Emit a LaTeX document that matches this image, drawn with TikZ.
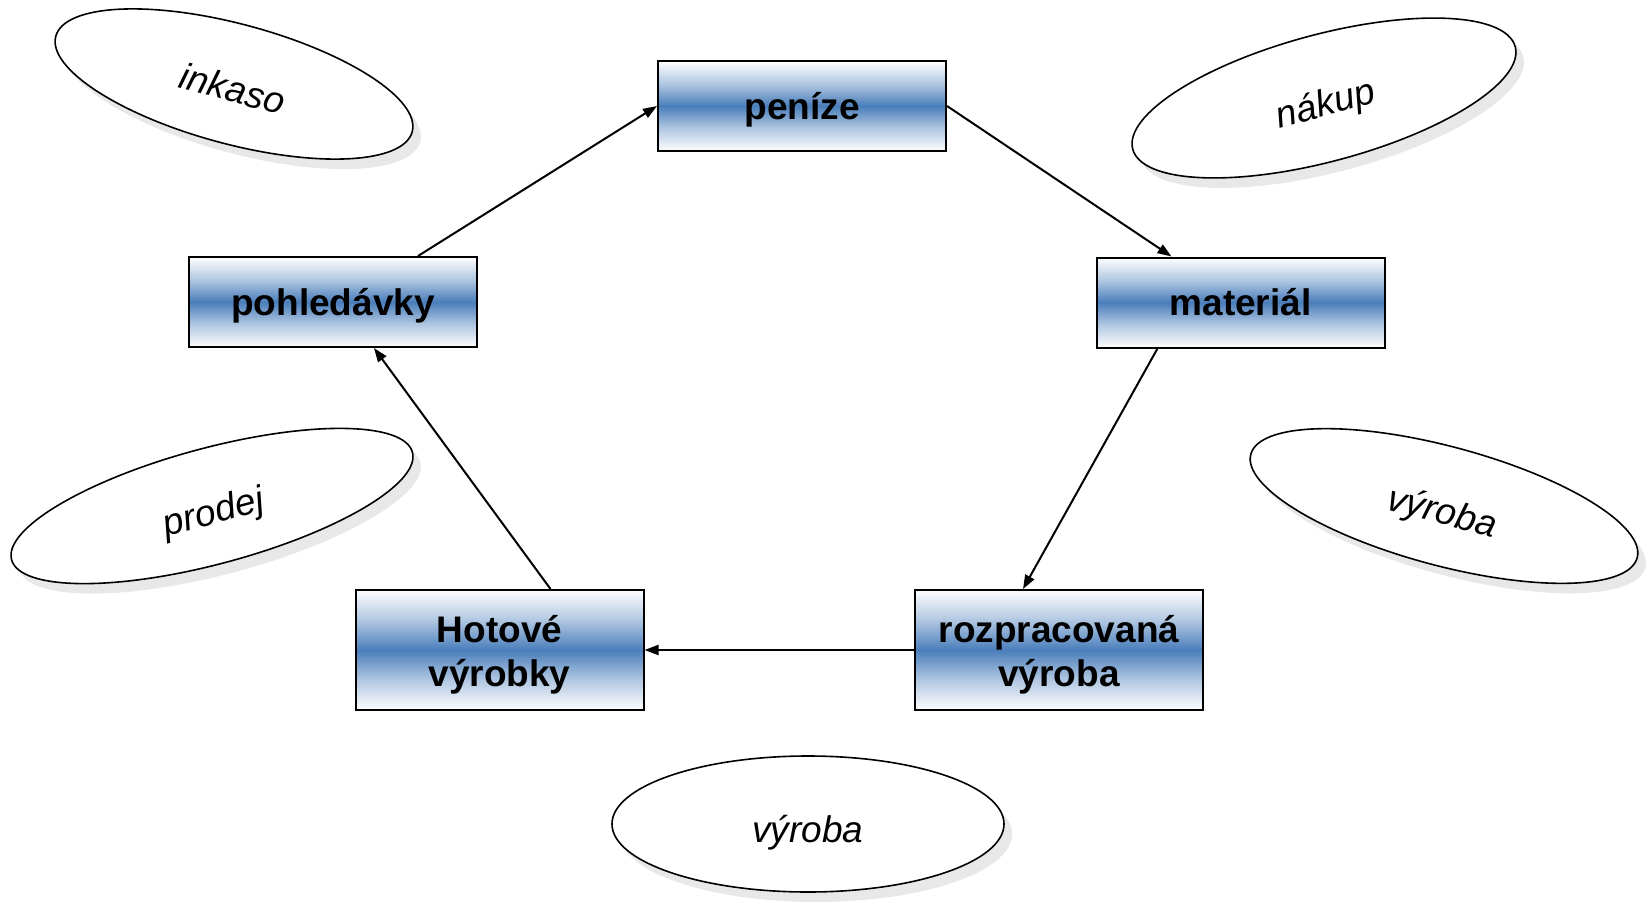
\documentclass[tikz,border=0pt]{standalone}
\usepackage{fontspec}
\setmainfont{Liberation Sans}
\usetikzlibrary{shapes.geometric,arrows.meta,shadows,calc}
\definecolor{boxblue}{RGB}{74,126,187}
\pgfdeclareverticalshading{boxshade}{100bp}{color(0bp)=(white); color(25bp)=(white); color(38bp)=(boxblue!45!white); color(50bp)=(boxblue); color(62bp)=(boxblue!45!white); color(75bp)=(white); color(100bp)=(white)}
\newcommand{\twolines}[2]{\begin{tabular}[t]{@{}c@{}}#1\\#2\end{tabular}}
\begin{document}
\begin{tikzpicture}[x=1pt,y=-1pt,
  stock/.style={rectangle, draw=black, line width=2pt, shading=boxshade, minimum width=288pt, minimum height=90pt, inner sep=0pt, text height=31pt, text depth=5pt, font=\fontsize{37}{44}\selectfont\bfseries},
  stocktwo/.style={stock, minimum height=120pt, text height=32pt, text depth=47pt},
  act/.style={ellipse, draw=black, line width=1.6pt, fill=white, inner sep=0pt, text height=38pt, text depth=2pt, font=\fontsize{37}{40}\selectfont\itshape, drop shadow={shadow xshift=8pt, shadow yshift=-10pt, fill=black!9, opacity=1}},
  flow/.style={-{Triangle[length=14pt,width=10pt]}, line width=2pt}]
\useasboundingbox (0,0) rectangle (1650,902);
\node[stock] (pen) at (802,106) {peníze};
\node[stock] (mat) at (1240.5,302.5) {materiál};
\node[stock] (poh) at (333,302) {pohledávky};
\node[stocktwo] (hot) at (499.5,650) {\twolines{Hotové}{výrobky}};
\node[stocktwo] (roz) at (1059,650) {\twolines{rozpracovaná}{výroba}};
\node[act, rotate=-15, minimum width=369pt, minimum height=120pt] (ink) at (234,84) {inkaso};
\node[act, rotate=15, minimum width=396pt, minimum height=127pt] (nak) at (1324,98) {nákup};
\node[act, rotate=-15, minimum width=400pt, minimum height=119pt] (vyr1) at (1444,506) {výroba};
\node[act, rotate=15, minimum width=415pt, minimum height=116pt] (prod) at (212,506) {prodej};
\node[act, minimum width=392pt, minimum height=136pt] (vyr2) at (808,824) {výroba};
\draw[flow] ($(poh.north)+(85,0)$) -- (pen.west);
\draw[flow] (pen.east) -- ($(mat.north)+(-69,0)$);
\draw[flow] ($(mat.south)+(-83,0)$) -- ($(roz.north)+(-36,0)$);
\draw[flow] (roz.west) -- (hot.east);
\draw[flow] ($(hot.north)+(51,0)$) -- ($(poh.south)+(41,0)$);
\end{tikzpicture}
\end{document}
